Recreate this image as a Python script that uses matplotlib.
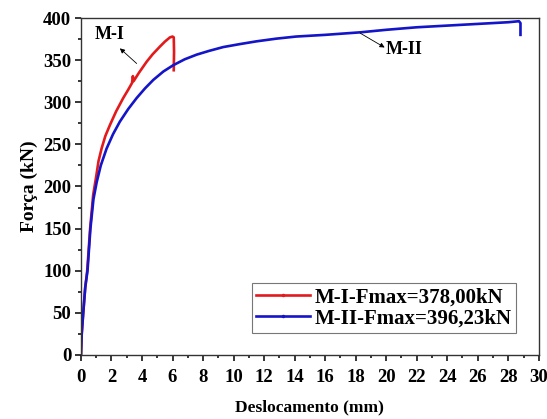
import matplotlib
matplotlib.use('Agg')
import matplotlib.pyplot as plt
from matplotlib.ticker import MultipleLocator
from matplotlib.lines import Line2D

plt.rcParams['font.family'] = 'Liberation Serif'
plt.rcParams['font.weight'] = 'bold'

# M-I curve (displacement mm, force kN)
x_m1 = [0, 0.05, 0.15, 0.28, 0.41, 0.6, 0.8, 1.0, 1.15, 1.35, 1.6, 1.9, 2.3, 2.77, 3.1, 3.35, 3.4, 3.45,
        3.8, 4.3, 4.7, 5.17, 5.5, 5.83, 6.0, 6.08, 6.1, 6.08]
y_m1 = [0, 25, 50, 80, 100, 150, 190, 212, 230, 245, 260, 273, 289, 305, 315, 323, 331, 325,
        335, 348, 357, 366, 372, 377, 378, 377, 360, 338]

# M-II curve
x_m2 = [0, 0.05, 0.15, 0.28, 0.43, 0.62, 0.82, 1.03, 1.3, 1.68, 2.1, 2.55, 3.1, 3.65, 4.2, 4.74, 5.4, 6.05,
        6.8, 7.58, 8.4, 9.32, 10.4, 11.5, 12.8, 14.1, 16.0, 18.3, 20.0, 22.0, 24.0, 26.0, 28.0, 28.7, 28.8, 28.8]
y_m2 = [0, 25, 50, 80, 100, 150, 185, 205, 225, 245, 262, 277, 292, 305, 316.5, 326.5, 336.5, 344,
        351, 356.5, 361, 365.5, 369, 372.3, 375.5, 378, 380, 383, 386, 389, 391, 393, 395, 396.2, 394, 380]

labels = ['M-I-Fmax=378,00kN', 'M-II-Fmax=396,23kN']
colors = ['#e31a1c', '#1414c8']

fig = plt.figure(figsize=(5.47, 4.19), dpi=100)
ax = fig.add_axes([0.148, 0.153, 0.837, 0.804])

ax.plot(x_m1, y_m1, color=colors[0], lw=1.9)
ax.plot(x_m2, y_m2, color=colors[1], lw=1.9)

ax.set_xlim(0, 30)
ax.set_ylim(0, 400)
ax.xaxis.set_major_locator(MultipleLocator(2))
ax.xaxis.set_minor_locator(MultipleLocator(1))
ax.yaxis.set_major_locator(MultipleLocator(50))
ax.yaxis.set_minor_locator(MultipleLocator(25))
ax.tick_params(which='both', direction='out', labelsize=13.5, width=1.1)
ax.tick_params(which='major', length=4)
ax.tick_params(which='minor', length=2.5)
ax.tick_params(axis='x', pad=6)
ax.tick_params(axis='y', pad=3)
for s in ax.spines.values():
    s.set_linewidth(1.0)
    s.set_color('#333333')

ax.set_xlabel('Deslocamento (mm)', fontsize=12.5, fontweight='bold', labelpad=10)
ax.set_ylabel('Força (kN)', fontsize=14, fontweight='bold', labelpad=4)

arrow = dict(arrowstyle='-|>', color='black', lw=0.6, mutation_scale=7, shrinkA=0, shrinkB=0)
ax.text(1.9, 380, 'M-I', fontsize=13, fontweight='bold', ha='center', va='center')
ax.annotate('', xy=(2.55, 364), xytext=(3.65, 346), arrowprops=arrow)
ax.text(21.2, 363, 'M-II', fontsize=13, fontweight='bold', ha='center', va='center')
ax.annotate('', xy=(19.9, 365), xytext=(18.3, 382), arrowprops=arrow)

handles = [Line2D([0], [0], color=c, lw=1.9, marker='.', markersize=3) for c in colors]
leg = ax.legend(handles, labels, loc='lower right', bbox_to_anchor=(0.972, 0.035), fontsize=15,
                frameon=True, fancybox=False, edgecolor='#555555',
                handlelength=2.6, handletextpad=0.2, borderpad=0.2, labelspacing=0.05)
leg.get_frame().set_linewidth(0.8)

fig.savefig('out.png', dpi=100)
